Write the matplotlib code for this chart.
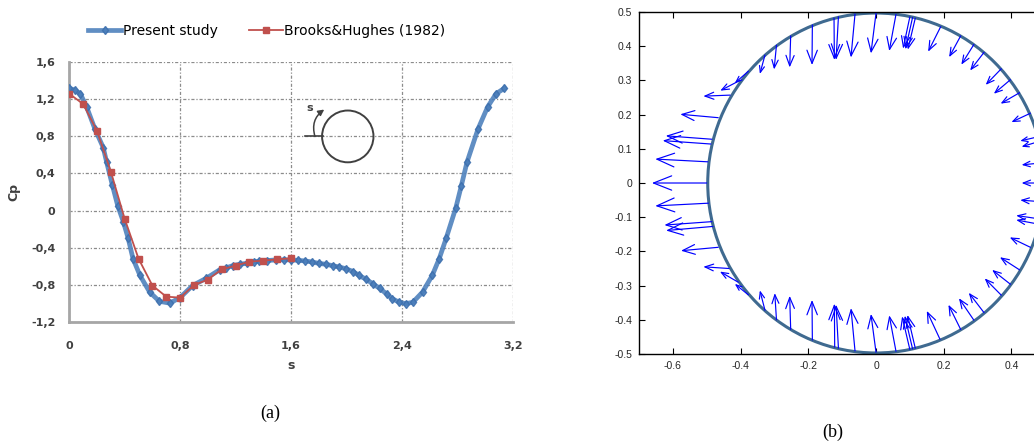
import matplotlib.pyplot as plt
import numpy as np
from matplotlib.patches import Ellipse, Circle

# ---- panel (a) data: Cp along the surface coordinate s
s_present = [0.00, 0.04, 0.08, 0.125, 0.185, 0.245, 0.27, 0.31, 0.35, 0.39,
             0.425, 0.46, 0.51, 0.58, 0.65, 0.725, 0.80, 0.89, 0.99, 1.085,
             1.13, 1.18, 1.23, 1.28, 1.33, 1.37, 1.43, 1.49, 1.55, 1.60,
             1.65, 1.70, 1.75, 1.80, 1.85, 1.90, 1.95, 2.00, 2.05, 2.09,
             2.14, 2.19, 2.24, 2.29, 2.33, 2.38, 2.43, 2.48, 2.55, 2.62,
             2.67, 2.72, 2.79, 2.83, 2.87, 2.95, 3.02, 3.08, 3.14]
cp_present = [1.32, 1.30, 1.26, 1.12, 0.88, 0.68, 0.52, 0.28, 0.05, -0.12,
              -0.30, -0.52, -0.70, -0.88, -0.98, -1.00, -0.94, -0.81, -0.73, -0.64,
              -0.62, -0.595, -0.58, -0.57, -0.555, -0.545, -0.54, -0.533, -0.532, -0.533,
              -0.538, -0.544, -0.555, -0.57, -0.58, -0.595, -0.61, -0.63, -0.66, -0.70,
              -0.74, -0.79, -0.84, -0.90, -0.95, -0.99, -1.005, -0.99, -0.88, -0.70,
              -0.52, -0.30, 0.03, 0.27, 0.52, 0.88, 1.12, 1.26, 1.32]

s_brooks = [0.0, 0.1, 0.2, 0.3, 0.4, 0.5, 0.6, 0.7, 0.8, 0.9, 1.0, 1.1, 1.2, 1.3, 1.4, 1.5, 1.6]
cp_brooks = [1.26, 1.15, 0.86, 0.42, -0.09, -0.52, -0.81, -0.93, -0.94, -0.805, -0.745,
             -0.635, -0.595, -0.552, -0.541, -0.527, -0.516]

# ---- panel (b) data: arrow tails on the circle and vector components
qx = [-0.500, -0.497, -0.488, -0.485, -0.466, -0.431, -0.402, -0.377, -0.328, -0.294,
      -0.252, -0.188, -0.124, -0.111, -0.062, 0.000, 0.059, 0.100, 0.108, 0.116,
      0.191, 0.250, 0.289, 0.319, 0.370, 0.397, 0.424, 0.456, 0.480, 0.478,
      0.492, 0.495, 0.492, 0.483, 0.479, 0.456, 0.424, 0.397, 0.370, 0.319,
      0.289, 0.250, 0.189, 0.100, 0.108, 0.116, 0.059, 0.000, -0.062, -0.111,
      -0.122, -0.188, -0.252, -0.294, -0.328, -0.377, -0.407, -0.434, -0.466, -0.485,
      -0.482, -0.495]
qy = [0.000, 0.062, 0.114, 0.128, 0.191, 0.257, 0.300, 0.327, 0.374, 0.403,
      0.430, 0.462, 0.482, 0.486, 0.494, 0.496, 0.493, 0.486, 0.484, 0.482,
      0.457, 0.430, 0.405, 0.382, 0.334, 0.302, 0.264, 0.204, 0.121, 0.135,
      0.059, 0.000, -0.055, -0.105, -0.120, -0.188, -0.254, -0.296, -0.328, -0.379,
      -0.401, -0.428, -0.457, -0.487, -0.485, -0.483, -0.492, -0.495, -0.491, -0.483,
      -0.480, -0.459, -0.428, -0.400, -0.372, -0.327, -0.290, -0.250, -0.188, -0.113,
      -0.127, -0.059]
qu = [-0.162, -0.155, -0.142, -0.136, -0.112, -0.079, -0.058, -0.040, -0.015, -0.007,
      -0.003, -0.001, 0.001, -0.007, -0.012, -0.015, -0.020, -0.020, -0.021, -0.022,
      -0.037, -0.034, -0.037, -0.041, -0.046, -0.049, -0.056, -0.056, -0.050, -0.052,
      -0.062, -0.065, -0.066, -0.069, -0.065, -0.061, -0.058, -0.054, -0.049, -0.045,
      -0.044, -0.036, -0.039, -0.023, -0.023, -0.023, -0.020, -0.015, -0.012, -0.007,
      -0.001, -0.001, -0.003, -0.005, -0.015, -0.040, -0.054, -0.076, -0.110, -0.140,
      -0.138, -0.157]
qv = [0.000, 0.008, 0.010, 0.010, 0.010, -0.003, -0.030, -0.035, -0.055, -0.071,
      -0.092, -0.117, -0.122, -0.126, -0.127, -0.117, -0.107, -0.093, -0.093, -0.092,
      -0.073, -0.062, -0.059, -0.053, -0.047, -0.041, -0.032, -0.026, -0.015, -0.012,
      -0.006, 0.000, 0.005, 0.010, 0.012, 0.029, 0.037, 0.042, 0.049, 0.058,
      0.064, 0.072, 0.083, 0.097, 0.097, 0.097, 0.105, 0.112, 0.125, 0.127,
      0.127, 0.117, 0.098, 0.078, 0.058, 0.032, 0.031, 0.005, -0.010, -0.010,
      -0.012, -0.008]

fig = plt.figure(figsize=(10.34, 4.45), dpi=100)

# ================= panel (a) =================
ax = fig.add_axes([0.067, 0.2771, 0.4288, 0.5829])
blue = '#4a7ebb'
red = '#c0504d'
ax.plot(s_present, cp_present, color=blue, lw=3.4, marker='d', ms=4.5,
        mec='#3d6fad', mfc=blue, alpha=0.88, label='Present study', zorder=3)
ax.plot(s_brooks, cp_brooks, color=red, lw=1.3, marker='s', ms=4.5,
        mec=red, mfc=red, label='Brooks&Hughes (1982)', zorder=4)

ax.set_xlim(0, 3.2)
ax.set_ylim(-1.2, 1.6)
xt = [0, 0.8, 1.6, 2.4, 3.2]
yt = [-1.2, -0.8, -0.4, 0, 0.4, 0.8, 1.2, 1.6]
ax.set_xticks(xt)
ax.set_yticks(yt)
ax.set_xticklabels(['0', '0,8', '1,6', '2,4', '3,2'])
ax.set_yticklabels(['-1,2', '-0,8', '-0,4', '0', '0,4', '0,8', '1,2', '1,6'])
ax.tick_params(length=0, labelsize=8, labelcolor='#404040', pad=10)
ax.tick_params(axis='x', pad=14)
for lab in ax.get_xticklabels() + ax.get_yticklabels():
    lab.set_fontweight('bold')
ax.grid(True, color='#8c8c8c', lw=0.9, ls=(0, (2.5, 1.5, 1, 1.5)))
for side in ['top', 'right']:
    ax.spines[side].set_visible(False)
for side in ['left', 'bottom']:
    ax.spines[side].set_color('#a6a6a6')
    ax.spines[side].set_linewidth(2)
ax.set_ylabel('Cp', fontsize=9, fontweight='bold', color='#404040', labelpad=8)
ax.set_xlabel('s', fontsize=9, fontweight='bold', color='#404040', labelpad=6)
ax.legend(loc='center', bbox_to_anchor=(0.445, 1.12), ncol=2, frameon=False,
          fontsize=10, handlelength=2.4, handletextpad=0.1, columnspacing=2.3)

# inset sketch of the cylinder with the s direction
ax.add_patch(Ellipse((2.01, 0.80), 0.371, 0.559, fill=False, ec='#404040', lw=1.4, zorder=5))
ax.plot([1.70, 1.833], [0.80, 0.80], color='#404040', lw=1.2, zorder=5)
ax.annotate('', xy=(1.84, 1.09), xytext=(1.773, 0.80),
            arrowprops=dict(arrowstyle='-|>,head_length=0.35,head_width=0.18',
                            color='#404040', lw=1.1, shrinkA=0, shrinkB=0,
                            connectionstyle='arc3,rad=-0.35'))
ax.text(1.737, 1.11, 's', fontsize=8, fontweight='bold', color='#404040',
        ha='center', va='center')

fig.text(270 / 1034, 1 - 413 / 445, '(a)', family='Liberation Serif', fontsize=13,
         ha='center', va='center')

# ================= panel (b) =================
bx = fig.add_axes([0.618, 0.2045, 0.4584, 0.7685])
bx.set_xlim(-0.7, 0.7)
bx.set_ylim(-0.5, 0.5)
bx.add_patch(Circle((0, 0), 0.497, fill=False, ec='#3f6a90', lw=2.2, zorder=2))
for x0, y0, u, v in zip(qx, qy, qu, qv):
    L = np.hypot(u * 340, v * 342) * 0.72  # length in points
    style = '->,head_length=%.3f,head_width=%.3f' % (0.33 * L, 0.13 * L)
    bx.annotate('', xy=(x0 + u, y0 + v), xytext=(x0, y0),
                arrowprops=dict(arrowstyle=style, color='#0000ff', lw=0.85,
                                shrinkA=0, shrinkB=0, mutation_scale=1),
                zorder=3)
bx.set_xticks([-0.6, -0.4, -0.2, 0, 0.2, 0.4, 0.6])
bx.set_xticklabels(['-0.6', '-0.4', '-0.2', '0', '0.2', '0.4', ''])
bx.set_yticks(np.round(np.arange(-0.5, 0.51, 0.1), 1))
bx.set_yticklabels(['-0.5', '-0.4', '-0.3', '-0.2', '-0.1', '0',
                    '0.1', '0.2', '0.3', '0.4', '0.5'])
bx.tick_params(direction='in', top=True, right=True, length=4, width=0.8,
               labelsize=7.5, labelcolor='#262626', pad=5)
for lab in bx.get_xticklabels() + bx.get_yticklabels():
    lab.set_family('Liberation Sans')
for sp in bx.spines.values():
    sp.set_linewidth(1.0)

fig.text(833 / 1034, 1 - 432 / 445, '(b)', family='Liberation Serif', fontsize=13,
         ha='center', va='center')

fig.savefig('out.png', dpi=100)
